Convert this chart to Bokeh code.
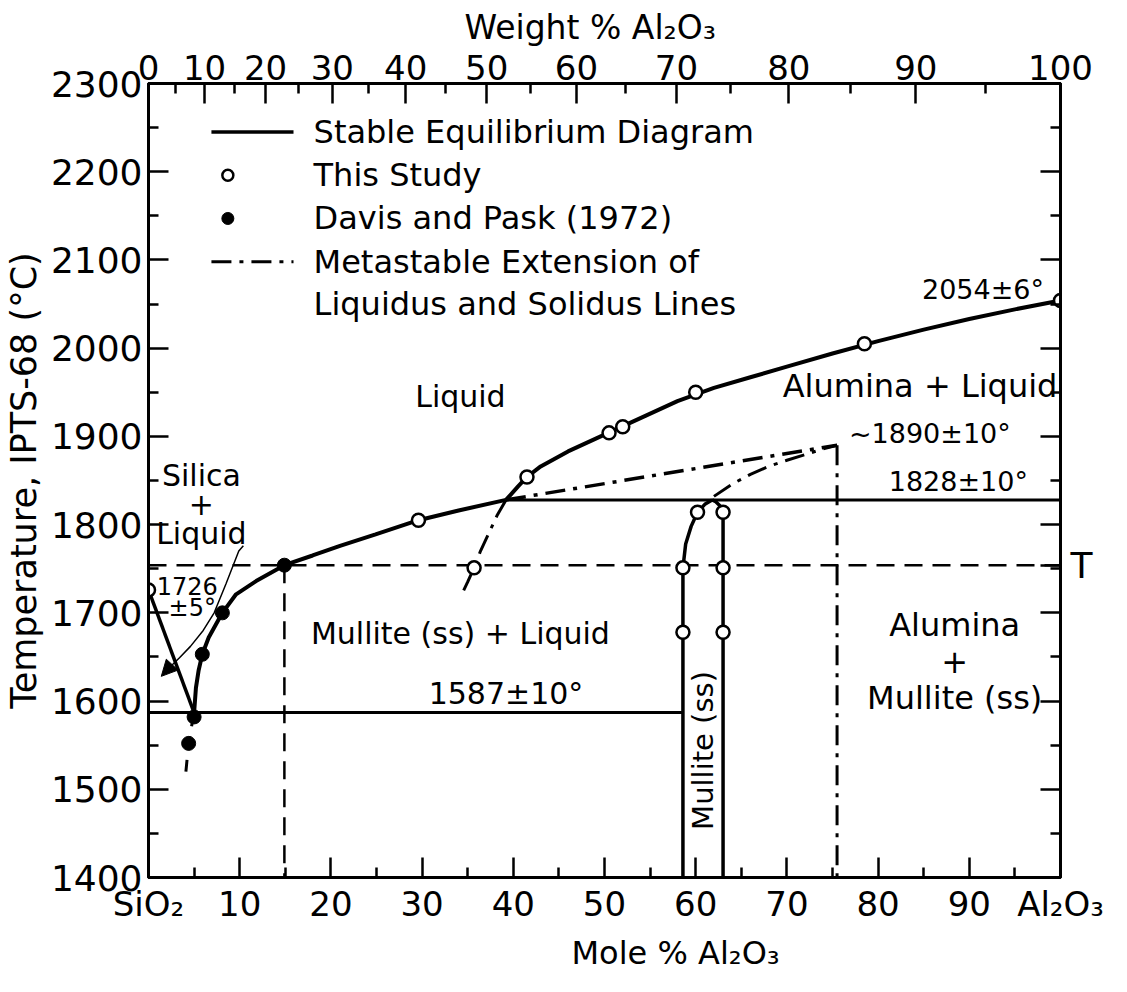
import math
from bokeh.plotting import figure
from bokeh.models import Range1d, LinearAxis, FixedTicker, Label, Arrow, NormalHead, Title
from bokeh.embed import file_html
from bokeh.resources import INLINE

FONT = "DejaVu Sans"

# ---------------- axis ticks and labels ----------------
mole_major = [0, 10, 20, 30, 40, 50, 60, 70, 80, 90, 100]
mole_minor = [5, 15, 25, 35, 45, 55, 65, 75, 85, 95]
mole_labels = ["SiO₂", "10", "20", "30", "40", "50", "60", "70", "80", "90", "Al₂O₃"]
temp_major = [1400, 1500, 1600, 1700, 1800, 1900, 2000, 2100, 2200, 2300]
temp_minor = [1450, 1550, 1650, 1750, 1850, 1950, 2050, 2150, 2250]
weight_major = [0, 10, 20, 30, 40, 50, 60, 70, 80, 90, 100]
weight_minor = [5, 15, 25, 35, 45, 55, 65, 75, 85, 95]
M_AL2O3 = 101.96
M_SIO2 = 60.08
T_level = 1754

# ---------------- phase boundaries (mole % Al2O3, deg C) ----------------
silica_liq_x = [0.0, 5.0]
silica_liq_t = [1726, 1587]

mullite_liq_x = [5.0, 5.2, 5.5, 5.9, 6.6, 8.1, 9.6, 11.8, 14.9, 18.0, 21.0, 24.9, 29.6, 34.0, 39.2]
mullite_liq_t = [1587, 1615, 1635, 1653, 1672, 1700, 1721, 1736, 1754, 1765, 1776, 1789, 1805, 1816, 1828]

mullite_liq_meta_x = [5.0, 4.7, 4.4, 4.1]
mullite_liq_meta_t = [1587, 1570, 1552, 1520]

alumina_liq_x = [39.2, 40.5, 41.5, 43.0, 46.0, 50.0, 54.0, 58.0, 62.0, 66.0, 70.0, 75.0, 80.0, 85.0, 90.0, 95.0, 100.0]
alumina_liq_t = [1828, 1843, 1854, 1866, 1883, 1902, 1921, 1940, 1955, 1967, 1979, 1994, 2008, 2021, 2033, 2044, 2054]

alumina_liq_meta_x = [39.2, 38.2, 37.4, 36.4, 35.7, 35.0, 34.4]
alumina_liq_meta_t = [1828, 1810, 1792, 1770, 1751, 1735, 1722]

mullite_meta_liq_x = [39.2, 75.5]
mullite_meta_liq_t = [1828, 1890]

mullite_meta_sol_x = [62.0, 64.0, 66.0, 68.0, 70.0, 72.2, 74.0, 75.5]
mullite_meta_sol_t = [1832, 1846, 1857, 1866, 1873, 1880, 1886, 1890]

meta_vert_x = [75.5, 75.5]
meta_vert_t = [1890, 1400]

mullite_left_x = [58.6, 58.6, 58.6, 58.9, 59.5, 60.2, 61.0, 61.8]
mullite_left_t = [1400, 1678, 1751, 1778, 1798, 1814, 1823, 1828]
mullite_right_x = [63.0, 63.0, 63.0, 62.8, 62.2, 61.8]
mullite_right_t = [1400, 1751, 1814, 1820, 1826, 1828]

eutectic_line_x = [0.0, 58.6]
eutectic_line_t = [1587, 1587]
peritectic_line_x = [39.2, 100.0]
peritectic_line_t = [1828, 1828]
t_line_x = [0.0, 100.0]
t_line_t = [T_level, T_level]
t_vert_x = [14.9, 14.9]
t_vert_t = [T_level, 1400]

arrow_x = [10.4, 9.9, 8.5, 7.2, 6.0, 4.6, 3.4, 2.3]
arrow_t = [1776, 1770, 1733, 1700, 1680, 1662, 1649, 1638]

# ---------------- measured points ----------------
study_x = [0.0, 29.6, 35.7, 41.5, 50.5, 52.0, 60.0, 78.5, 100.0,
           58.6, 58.6, 60.2, 63.0, 63.0, 63.0]
study_t = [1726, 1805, 1751, 1854, 1904, 1911, 1950, 2005, 2054,
           1678, 1751, 1814, 1678, 1751, 1814]
davis_x = [4.4, 5.0, 5.9, 8.1, 14.9]
davis_t = [1552, 1582, 1653, 1700, 1754]


def wt_to_mole(w):
    a = w / M_AL2O3
    s = (100.0 - w) / M_SIO2
    return round(100.0 * a / (a + s), 4)


p = figure(width=1111, height=976,
           x_range=Range1d(0, 100), y_range=Range1d(1400, 2300),
           output_backend="svg", toolbar_location=None,
           x_axis_location=None, y_axis_location=None,
           min_border_left=144, min_border_top=81,
           min_border_right=51, min_border_bottom=96)
p.grid.visible = False
p.outline_line_color = "black"
p.outline_line_width = 3
p.background_fill_color = "white"
p.border_fill_color = "white"


def style_axis(ax, font_size="36px"):
    ax.axis_line_width = 3
    ax.axis_line_color = "black"
    ax.major_tick_in = 20
    ax.major_tick_out = 0
    ax.minor_tick_in = 10
    ax.minor_tick_out = 0
    ax.major_tick_line_width = 2.5
    ax.minor_tick_line_width = 2.5
    ax.major_label_text_font = FONT
    ax.major_label_text_font_size = font_size
    ax.major_label_text_color = "black"
    ax.axis_label_text_font = FONT
    ax.axis_label_text_font_style = "normal"
    ax.axis_label_text_color = "black"


# bottom: mole %
xb = LinearAxis(ticker=FixedTicker(ticks=mole_major, minor_ticks=mole_minor),
                major_label_overrides={m: l for m, l in zip(mole_major, mole_labels)})
style_axis(xb, "34px")
xb.major_label_standoff = 6
p.add_layout(xb, "below")
p.add_layout(Title(text="Mole % Al₂O₃", align="left", offset=423, text_color="black",
                   text_font=FONT, text_font_size="32px", text_font_style="normal"), "below")

# left: temperature
yl = LinearAxis(ticker=FixedTicker(ticks=temp_major, minor_ticks=temp_minor),
                axis_label="Temperature, IPTS-68 (°C)")
style_axis(yl, "36px")
yl.major_label_standoff = 6
yl.axis_label_text_font_size = "35px"
yl.axis_label_standoff = 4
p.add_layout(yl, "left")

# right: temperature ticks, with the level T marked
right_labels = {t: "" for t in temp_major}
right_labels[T_level] = "T"
yr = LinearAxis(ticker=FixedTicker(ticks=temp_major + [T_level], minor_ticks=temp_minor),
                major_label_overrides=right_labels)
style_axis(yr, "36px")
yr.major_label_standoff = 10
p.add_layout(yr, "right")

# top: weight %
w_pos = [wt_to_mole(w) for w in weight_major]
w_minor_pos = [wt_to_mole(w) for w in weight_minor]
xt = LinearAxis(ticker=FixedTicker(ticks=w_pos, minor_ticks=w_minor_pos),
                major_label_overrides={pos: str(w) for pos, w in zip(w_pos, weight_major)})
style_axis(xt, "34px")
xt.major_label_standoff = 4
p.add_layout(xt, "above")
p.add_layout(Title(text="Weight % Al₂O₃", align="left", offset=316, text_color="black",
                   text_font=FONT, text_font_size="33px", text_font_style="normal"), "above")

# ---------------- lines ----------------
DASHDOT = "20 8 4 8"
p.line(silica_liq_x, silica_liq_t, line_width=3.5, color="black")
p.line(mullite_liq_x, mullite_liq_t, line_width=4, color="black")
p.line(mullite_liq_meta_x, mullite_liq_meta_t, line_width=3, color="black", line_dash="14 10")
p.line(alumina_liq_x, alumina_liq_t, line_width=4, color="black")
p.line(alumina_liq_meta_x, alumina_liq_meta_t, line_width=3, color="black", line_dash=DASHDOT)
p.line(mullite_meta_liq_x, mullite_meta_liq_t, line_width=3.5, color="black", line_dash=DASHDOT)
p.line(mullite_meta_sol_x, mullite_meta_sol_t, line_width=3, color="black", line_dash=DASHDOT)
p.line(meta_vert_x, meta_vert_t, line_width=3, color="black", line_dash=DASHDOT)
p.line(mullite_left_x, mullite_left_t, line_width=3.5, color="black")
p.line(mullite_right_x, mullite_right_t, line_width=3.5, color="black")
p.line(eutectic_line_x, eutectic_line_t, line_width=3, color="black")
p.line(peritectic_line_x, peritectic_line_t, line_width=3, color="black")
p.line(t_line_x, t_line_t, line_width=2.5, color="black", line_dash="18 10")
p.line(t_vert_x, t_vert_t, line_width=2.5, color="black", line_dash="18 10")

# thin arrow into the silica + liquid field
p.line(arrow_x, arrow_t, line_width=1.5, color="black")
p.add_layout(Arrow(x_start=arrow_x[-1], y_start=arrow_t[-1], x_end=1.4, y_end=1628,
                   line_width=1.5, line_color="black",
                   end=NormalHead(size=16, fill_color="black", line_color="black", line_width=1)))

# ---------------- points ----------------
p.scatter(study_x, study_t, marker="circle", size=13, fill_color="white",
          line_color="black", line_width=2.5)
p.scatter(davis_x, davis_t, marker="circle", size=14, fill_color="black",
          line_color="black", line_width=1)

# ---------------- legend (drawn) ----------------
leg_line_x = [6.9, 15.9]
leg_rows = [2245, 2196, 2147, 2098, 2050]
p.line(leg_line_x, [leg_rows[0]] * 2, line_width=3.5, color="black")
p.scatter([8.7], [leg_rows[1]], marker="circle", size=11, fill_color="white",
          line_color="black", line_width=2.5)
p.scatter([8.7], [leg_rows[2]], marker="circle", size=12, fill_color="black",
          line_color="black")
p.line(leg_line_x, [leg_rows[3]] * 2, line_width=3, color="black", line_dash=DASHDOT)
leg_texts = ["Stable Equilibrium Diagram", "This Study", "Davis and Pask (1972)",
             "Metastable Extension of", "Liquidus and Solidus Lines"]
for t, yv in zip(leg_texts, leg_rows):
    p.add_layout(Label(x=18.1, y=yv, text=t, text_font=FONT, text_font_size="32px",
                       text_align="left", text_baseline="middle", text_color="black"))


def lab(x, y, text, size="30px", align="center", angle=0.0):
    p.add_layout(Label(x=x, y=y, text=text, text_font=FONT, text_font_size=size,
                       text_align=align, text_baseline="middle", text_color="black",
                       angle=angle))


lab(34.2, 1945, "Liquid")
lab(84.6, 1957, "Alumina + Liquid", "32px")
lab(76.8, 1903, "~1890±10°", "27px", "left")
lab(88.8, 1849, "1828±10°", "27px")
lab(91.5, 2067, "2054±6°", "27px")
lab(39.2, 1609, "1587±10°", "30px")
lab(34.2, 1677, "Mullite (ss) + Liquid")
lab(88.4, 1686, "Alumina", "32px")
lab(88.4, 1645, "+", "32px")
lab(88.4, 1603, "Mullite (ss)", "32px")
lab(5.8, 1856, "Silica")
lab(5.8, 1823, "+")
lab(5.8, 1790, "Liquid")
lab(0.9, 1730, "1726", "24px", "left")
lab(2.2, 1705, "±5°", "24px", "left")
lab(60.8, 1544, "Mullite (ss)", "29px", "center", math.pi / 2)

open("out.html", "w").write(file_html(p, INLINE))
